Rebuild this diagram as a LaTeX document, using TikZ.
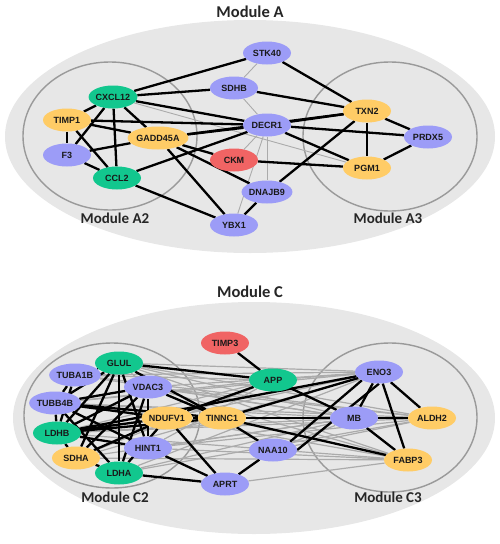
\documentclass[tikz,border=0pt]{standalone}
\usepackage{fontspec}
\setmainfont{Liberation Sans}
\newfontfamily\titlefont{Carlito}
\usetikzlibrary{shapes.geometric}
\definecolor{gn}{HTML}{12C78E}
\definecolor{bl}{HTML}{9C9CF7}
\definecolor{yl}{HTML}{FFCC66}
\definecolor{rd}{HTML}{F06464}
\definecolor{bgfill}{HTML}{E7E7E7}
\definecolor{ringgray}{HTML}{9A9A9A}
\definecolor{thingray}{HTML}{ABABAB}
\pgfdeclarelayer{bglayer}
\pgfdeclarelayer{edgelayer}
\pgfsetlayers{bglayer,edgelayer,main}
\begin{document}
\begin{tikzpicture}[x=1pt,y=-1pt,
  gene/.style={ellipse, minimum width=48pt, minimum height=23pt, inner sep=0pt,
    font=\bfseries\fontsize{9}{9}\selectfont, text=black!90},
  G/.style={gene, fill=gn}, B/.style={gene, fill=bl},
  Y/.style={gene, fill=yl}, R/.style={gene, fill=rd},
  strong/.style={line width=2.3pt, black},
  weak/.style={line width=1.2pt, thingray},
  modring/.style={draw=ringgray, line width=1.4pt},
  modarea/.style={fill=bgfill},
  modtitle/.style={font=\titlefont\bfseries\fontsize{16.5}{16.5}\selectfont, text=black!85},
  sublabel/.style={font=\titlefont\bfseries\fontsize{15}{15}\selectfont, text=black!85}]
\useasboundingbox (0,0) rectangle (500,544);

% ---------- Module A ----------
\begin{pgfonlayer}{bglayer}
\fill[modarea] (250,136.5) ellipse [x radius=245, y radius=116.5];
\draw[modring] (110,136) ellipse [x radius=87, y radius=74];
\draw[modring] (390,136.5) ellipse [x radius=87, y radius=74.5];
\end{pgfonlayer}
\node[modtitle] (tA) at (250,12) {Module A};
\node[sublabel] (tA2) at (115,218) {Module A2};
\node[sublabel] (tA3) at (388,218) {Module A3};

\node[B] (STK40) at (267,53) {STK40};
\node[B] (SDHB) at (234,88) {SDHB};
\node[B] (DECR1) at (267,125) {DECR1};
\node[R] (CKM) at (234,160) {CKM};
\node[B] (DNAJB9) at (267,192) {DNAJB9};
\node[B] (YBX1) at (234,225) {YBX1};
\node[Y] (GADD45A) at (158,138) {GADD45A};
\node[G] (CXCL12) at (113,97) {CXCL12};
\node[Y] (TIMP1) at (67,120) {TIMP1};
\node[B] (F3) at (67,155) {F3};
\node[G] (CCL2) at (117,178) {CCL2};
\node[Y] (TXN2) at (367,111) {TXN2};
\node[B] (PRDX5) at (428,137) {PRDX5};
\node[Y] (PGM1) at (367,168) {PGM1};

\begin{pgfonlayer}{edgelayer}
\foreach \a/\b in {STK40/SDHB, SDHB/DECR1, DECR1/CKM, DECR1/DNAJB9, DECR1/YBX1, CXCL12/PGM1}
  \draw[weak, line width=0.9pt] (\a) -- (\b);
\foreach \a/\b in {CXCL12/STK40, CXCL12/SDHB, CXCL12/DECR1, CXCL12/TIMP1, CXCL12/F3,
  CXCL12/CCL2, CXCL12/GADD45A, TIMP1/F3, TIMP1/CCL2, TIMP1/DECR1, TIMP1/GADD45A,
  F3/GADD45A, F3/CCL2, CCL2/DECR1, CCL2/YBX1, GADD45A/DECR1, GADD45A/TXN2,
  GADD45A/CKM, GADD45A/DNAJB9, GADD45A/YBX1, STK40/TXN2, SDHB/TXN2, DECR1/TXN2,
  DECR1/PRDX5, DECR1/PGM1, CKM/PGM1, DNAJB9/TXN2, YBX1/DNAJB9, TXN2/PGM1,
  TXN2/PRDX5, PGM1/PRDX5}
  \draw[strong] (\a) -- (\b);
\end{pgfonlayer}

% ---------- Module C ----------
\begin{pgfonlayer}{bglayer}
\fill[modarea] (254,418) ellipse [x radius=241, y radius=116];
\draw[modring] (112,415.5) ellipse [x radius=88, y radius=72.5];
\draw[modring] (390,417.5) ellipse [x radius=87, y radius=74.5];
\end{pgfonlayer}
\node[modtitle] (tC) at (250,292) {Module C};
\node[sublabel] (tC2) at (115,497) {Module C2};
\node[sublabel] (tC3) at (388,497) {Module C3};

\node[R] (TIMP3) at (225,343) {TIMP3};
\node[G] (APP) at (273,380) {APP};
\node[G] (GLUL) at (119,363) {GLUL};
\node[B] (TUBA1B) at (75,375) {TUBA1B};
\node[B] (VDAC3) at (148,387) {VDAC3};
\node[B] (TUBB4B) at (55,403) {TUBB4B};
\node[Y] (NDUFV1) at (167,418) {NDUFV1};
\node[Y] (TINNC1) at (222,418) {TINNC1};
\node[G] (LDHB) at (57,433) {LDHB};
\node[B] (HINT1) at (148,448) {HINT1};
\node[Y] (SDHA) at (76,458) {SDHA};
\node[G] (LDHA) at (119,473) {LDHA};
\node[B] (APRT) at (225,484) {APRT};
\node[B] (NAA10) at (273,450) {NAA10};
\node[B] (ENO3) at (379,372) {ENO3};
\node[B] (MB) at (354,418) {MB};
\node[Y] (ALDH2) at (432,418) {ALDH2};
\node[Y] (FABP3) at (408,460) {FABP3};

\begin{pgfonlayer}{edgelayer}
\foreach \a/\b in {GLUL/ENO3, GLUL/MB, GLUL/ALDH2, TUBA1B/ENO3, TUBA1B/MB, VDAC3/ENO3,
  VDAC3/MB, VDAC3/FABP3, TUBB4B/MB, TUBB4B/ALDH2, TUBB4B/ENO3, LDHB/MB, LDHB/ALDH2,
  LDHB/FABP3, SDHA/MB, SDHA/FABP3, SDHA/ENO3, HINT1/MB, HINT1/ALDH2, HINT1/FABP3,
  LDHA/MB, LDHA/ENO3, NDUFV1/ENO3, NDUFV1/MB, NDUFV1/FABP3, APP/TUBB4B, APP/LDHB,
  APP/ENO3, APRT/FABP3, TINNC1/ALDH2, NAA10/MB, NAA10/ALDH2, GLUL/VDAC3, APP/HINT1,
  TUBA1B/ALDH2, GLUL/FABP3, VDAC3/ALDH2, APP/SDHA, APP/TUBA1B, LDHA/ALDH2}
  \draw[weak] (\a) -- (\b);
\foreach \a/\b in {TIMP3/APP, GLUL/APP, NDUFV1/APP, APP/MB, TINNC1/ENO3, LDHB/ENO3,
  TINNC1/MB, MB/ALDH2, TINNC1/FABP3, TINNC1/NAA10, APRT/NAA10, ENO3/MB, ENO3/ALDH2,
  ENO3/FABP3, MB/FABP3, NDUFV1/APRT, HINT1/APRT, LDHA/APRT, GLUL/TINNC1, VDAC3/TINNC1,
  NDUFV1/TINNC1, TUBA1B/TUBB4B, TUBA1B/LDHB, TUBB4B/LDHB, LDHB/SDHA, SDHA/LDHA,
  GLUL/TUBB4B, GLUL/LDHB, GLUL/SDHA, GLUL/LDHA, GLUL/HINT1, VDAC3/TUBB4B, VDAC3/LDHB,
  VDAC3/SDHA, VDAC3/LDHA, NDUFV1/TUBB4B, NDUFV1/LDHB, NDUFV1/SDHA, NDUFV1/LDHA,
  HINT1/TUBB4B, HINT1/LDHB, HINT1/VDAC3, TINNC1/TUBB4B, TINNC1/LDHB, LDHA/TUBB4B,
  GLUL/TUBA1B}
  \draw[strong] (\a) -- (\b);
\draw[strong] (NAA10.north east) -- (ENO3.south west);
\draw[strong] (NAA10.east) -- (ENO3.south);
\end{pgfonlayer}
\end{tikzpicture}
\end{document}
